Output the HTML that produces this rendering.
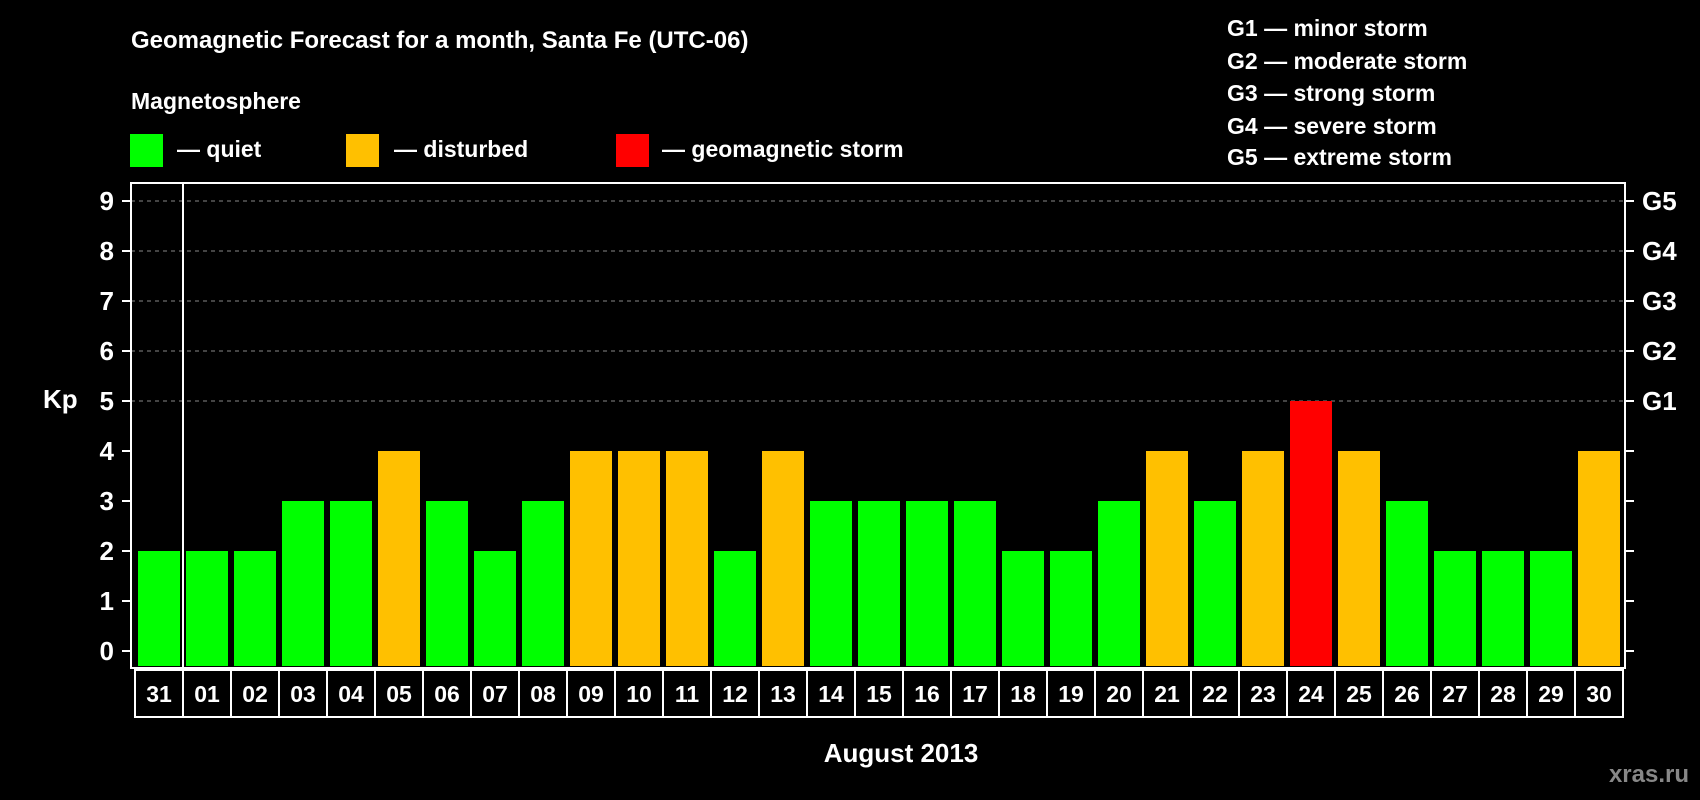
<!DOCTYPE html>
<html><head><meta charset="utf-8"><style>
html,body{margin:0;padding:0;background:#000;width:1700px;height:800px;overflow:hidden}
svg{display:block;font-family:"Liberation Sans",sans-serif;font-weight:bold}
</style></head><body>
<svg id="c" width="1700" height="800" viewBox="0 0 1700 800">
<text x="131" y="48" fill="#fff" font-size="24">Geomagnetic Forecast for a month, Santa Fe (UTC-06)</text>
<text x="131" y="109" fill="#fff" font-size="23">Magnetosphere</text>
<rect x="130" y="134" width="33" height="33" fill="#00ff00"/>
<text x="177" y="157" fill="#fff" font-size="23">— quiet</text>
<rect x="346" y="134" width="33" height="33" fill="#ffc000"/>
<text x="394" y="157" fill="#fff" font-size="23">— disturbed</text>
<rect x="616" y="134" width="33" height="33" fill="#ff0000"/>
<text x="662" y="157" fill="#fff" font-size="23">— geomagnetic storm</text>
<g fill="#fff" font-size="23">
<text x="1227" y="36">G1 — minor storm</text>
<text x="1227" y="69">G2 — moderate storm</text>
<text x="1227" y="101">G3 — strong storm</text>
<text x="1227" y="134">G4 — severe storm</text>
<text x="1227" y="165">G5 — extreme storm</text>
</g>
<text x="43" y="408" fill="#fff" font-size="26">Kp</text>
<text x="901" y="762" fill="#fff" font-size="26" text-anchor="middle">August 2013</text>
<text x="1689" y="782" fill="#888" font-size="24" text-anchor="end">xras.ru</text>
<g id="plot"></g>
</svg>
<script>
const days=["31","01","02","03","04","05","06","07","08","09","10","11","12","13","14","15","16","17","18","19","20","21","22","23","24","25","26","27","28","29","30"];
const kp=[2,2,2,3,3,4,3,2,3,4,4,4,2,4,3,3,3,3,2,2,3,4,3,4,5,4,3,2,2,2,4];
const yTicks=["0","1","2","3","4","5","6","7","8","9"];
const gLabels=["G1","G2","G3","G4","G5"];
const NS="http://www.w3.org/2000/svg";
const g=document.getElementById('plot');
const L=131,R=1625,T=183,B=668;
const y=v=>651-v*50;
const x=i=>138+i*48;
function mk(t,a){const e=document.createElementNS(NS,t);for(const k in a)e.setAttribute(k,a[k]);g.appendChild(e);return e;}
for(let v=5;v<=9;v++){
 const l=mk('line',{x1:L,x2:R,y1:y(v),y2:y(v),stroke:'#888','stroke-dasharray':'4,4','stroke-width':1});
 
 
}
kp.forEach((v,i)=>{
 const r=mk('rect',{x:x(i),y:y(v),width:42,height:B-2-y(v),fill:v>=5?'#ff0000':v>=4?'#ffc000':'#00ff00'});
 
 
 const c=mk('rect',{x:x(i)-3,y:670,width:48,height:47,fill:'none',stroke:'#fff','stroke-width':2});
 
 
 const t=mk('text',{x:x(i)+21,y:702,fill:'#fff','font-size':23,'text-anchor':'middle'});
 t.textContent=days[i];
 
 
});
yTicks.forEach((s,i)=>{
 const v=+s;
 const a=mk('line',{x1:122,x2:L,y1:y(v),y2:y(v),stroke:'#fff','stroke-width':2});
 
 
 const b=mk('line',{x1:R,x2:1634,y1:y(v),y2:y(v),stroke:'#fff','stroke-width':2});
 
 
 const t=mk('text',{x:114,y:y(v)+9,fill:'#fff','font-size':26,'text-anchor':'end'});
 t.textContent=s;
 
 
});
gLabels.forEach((s,i)=>{
 const t=mk('text',{x:1642,y:y(5+i)+9,fill:'#fff','font-size':26});
 t.textContent=s;
 
 
});
const f=mk('rect',{x:L,y:T,width:R-L,height:B-T,fill:'none',stroke:'#fff','stroke-width':2});


const s=mk('line',{x1:183,x2:183,y1:T,y2:B,stroke:'#fff','stroke-width':2});


</script>
</body></html>
